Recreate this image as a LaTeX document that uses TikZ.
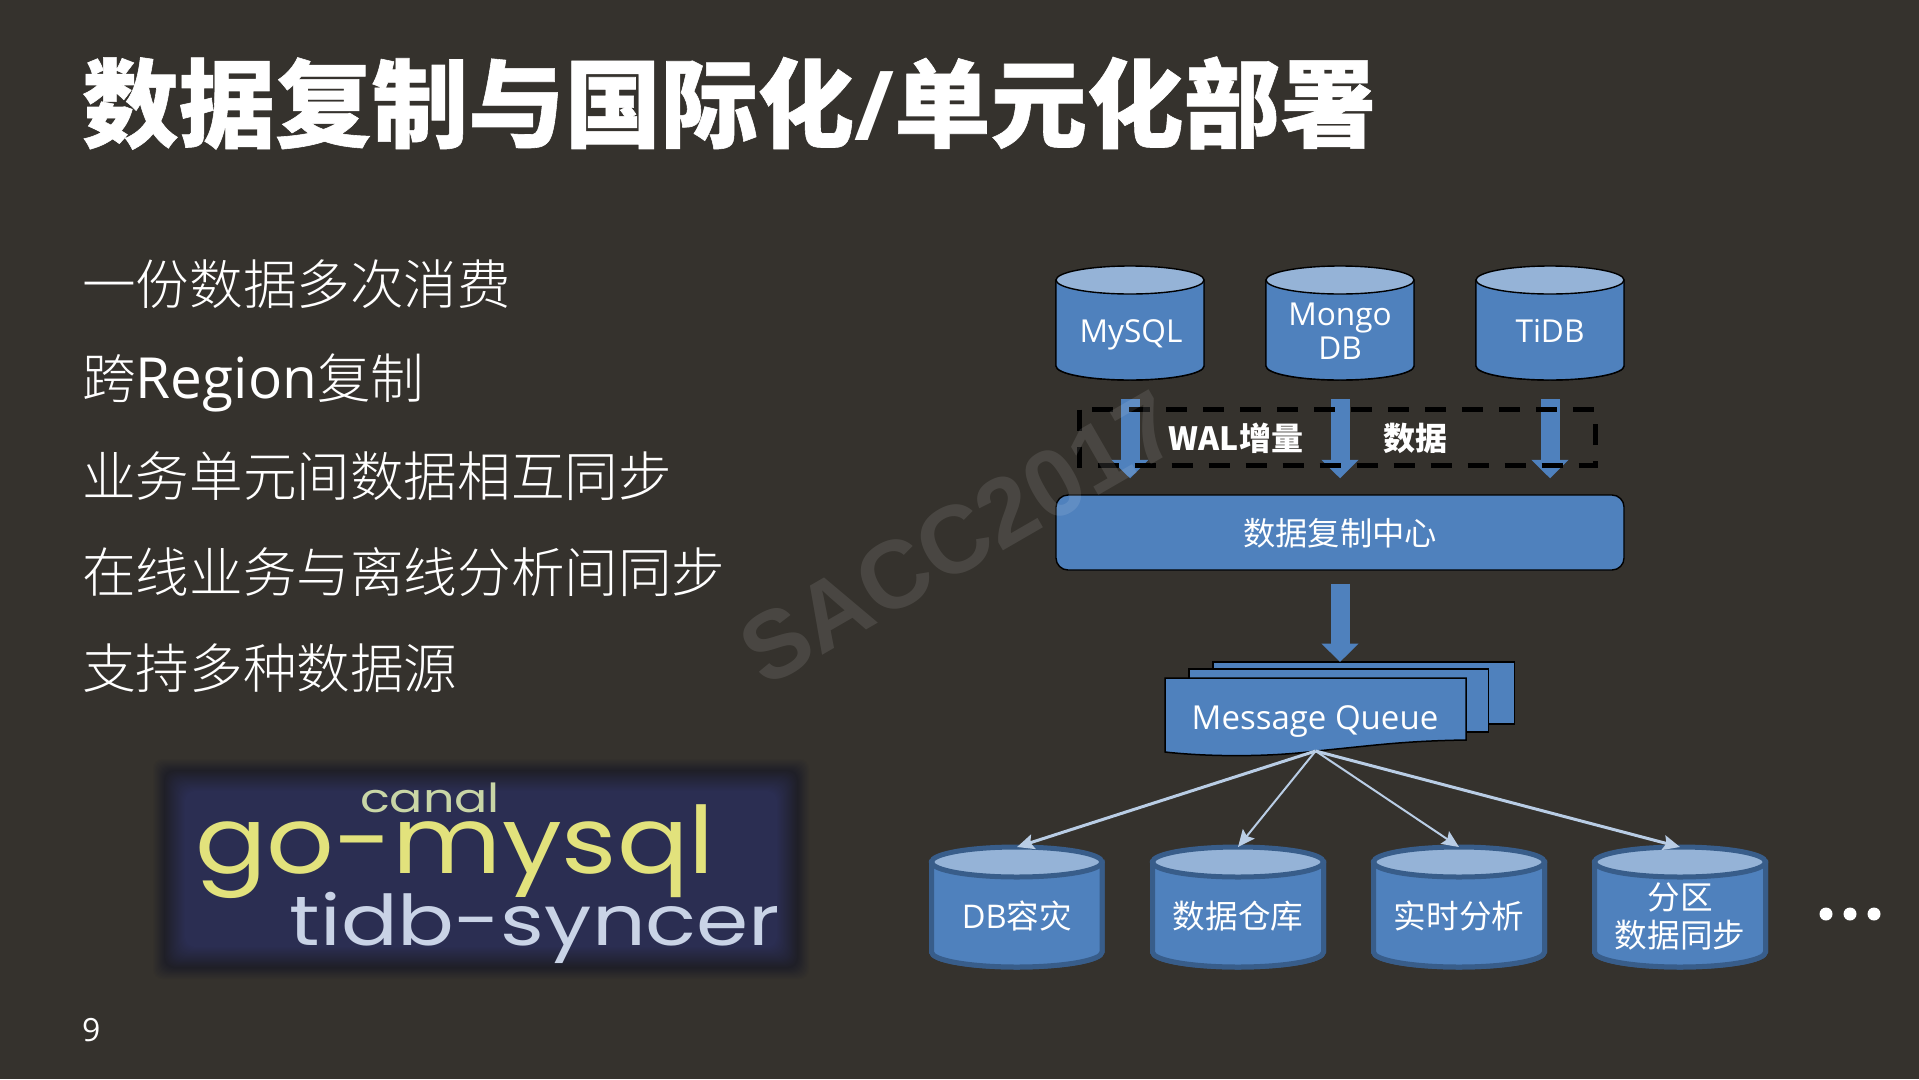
\documentclass[tikz,border=0pt]{standalone}
\usepackage{fontspec}
\setmainfont{Noto Sans CJK SC}
\newfontfamily\bodyfont{Noto Sans CJK SC Light}
\newfontfamily\titlefont[BoldFeatures={FakeBold=0.6}]{Noto Sans CJK SC}
\newfontfamily\latinfont{Open Sans}
\newfontfamily\wmfont{Liberation Sans}
\newfontfamily\logofont{Poppins}
\usetikzlibrary{arrows.meta,calc}
\definecolor{pagebg}{HTML}{35322D}
\definecolor{cylblue}{HTML}{4F81BD}
\definecolor{cyltop}{HTML}{95B3D7}
\definecolor{cylrim}{HTML}{385D8A}
\definecolor{softline}{HTML}{B9CDE5}
\definecolor{logonavy}{HTML}{2B2E53}
\definecolor{logodark}{HTML}{1F1F27}
\definecolor{logoyellow}{HTML}{E2E27C}
\definecolor{logopale}{HTML}{C9D6A6}
\definecolor{logoblue}{HTML}{C9D3E6}
\newcommand{\fs}[1]{\fontsize{#1}{#1}\selectfont}
\newcommand{\dbshape}[6]{% left, right, top centre y, bottom centre y, ry, style
  \fill[#6] (#1,#3) -- (#1,#4) arc[start angle=180,end angle=0,x radius={(#2-#1)/2},y radius=#5] -- (#2,#3) -- cycle;
  \draw[#6] (#1,#3) -- (#1,#4) arc[start angle=180,end angle=0,x radius={(#2-#1)/2},y radius=#5] -- (#2,#3);
  \draw[#6,fill=cyltop] ({(#1+#2)/2},#3) ellipse[x radius={(#2-#1)/2},y radius=#5];
}
\tikzset{
  slot/.style={inner sep=0pt,outer sep=0pt},
  upperdb/.style={fill=cylblue,draw=black,line width=1.4pt},
  lowerdb/.style={fill=cylblue,draw=cylrim,line width=5pt},
  celltext/.style={text=white,inner sep=0pt,align=center,font=\fs{32.6},text height=26pt,text depth=7pt},
  latincell/.style={text=white,inner sep=0pt,align=center,font=\latinfont\fs{31.6},text height=26pt,text depth=7pt},
  blockarrow/.style={draw=cylblue,line width=19pt,-{Triangle[width=36pt,length=18.5pt]}},
  softarrow/.style={draw=softline,line width=2.5pt,-{Stealth[length=17pt,width=15pt,inset=3pt]}},
  sheet/.style={fill=cylblue,draw=black,line width=1.5pt},
  bodyline/.style={anchor=base west,inner sep=0pt,text=white,font=\bodyfont\fs{53.6}},
  logotext/.style={anchor=base,inner sep=0pt,transform shape}
}
\begin{document}
\begin{tikzpicture}[x=1pt,y=-1pt]
\useasboundingbox (0,0) rectangle (1919,1079);
\fill[pagebg] (0,0) rectangle (1919,1079);

% title and body
\node[anchor=base west,inner sep=0pt,text=white,font=\titlefont\fs{96.5}\bfseries] (title) at (82,140) {数据复制与国际化{\latinfont\bfseries /}单元化部署};
\node[bodyline] (l1) at (82,304) {一份数据多次消费};
\node[bodyline] (l2) at (82,398) {跨{\latinfont\fs{56.7}Region}复制};
\node[bodyline] (l3) at (82,496) {业务单元间数据相互同步};
\node[bodyline] (l4) at (82,592) {在线业务与离线分析间同步};
\node[bodyline] (l5) at (82,688) {支持多种数据源};
\node[anchor=base west,inner sep=0pt,text=white,font=\latinfont\fs{32}] (page) at (82,1041) {9};

% logo
\foreach \i in {0,...,11}{
  \pgfmathsetmacro{\p}{\i*8.33}
  \fill[logodark!\p!pagebg,rounded corners=10pt] ({152+\i},{758+\i}) rectangle ({810-\i},{980-\i});
}
\foreach \i in {0,...,21}{
  \pgfmathsetmacro{\p}{\i*4.7}
  \fill[logonavy!\p!logodark,rounded corners=10pt] ({164+\i},{770+\i}) rectangle ({798-\i},{968-\i});
}
\node[logotext,text=logopale,font=\logofont\fs{40},xscale=1.23] (canal) at (430,812) {canal};
\node[logotext,text=logoyellow,font=\logofont\fs{93},xscale=1.14] (gomysql) at (455,873) {go-mysql};
\node[logotext,text=logoblue,font=\logofont\fs{70},xscale=1.2] (syncer) at (535,945) {tidb-syncer};

% source databases
\dbshape{1056}{1204}{280}{366}{14}{upperdb}
\node[slot,minimum width=148pt,minimum height=114pt] (mysql) at (1130,323) {};
\dbshape{1266}{1414}{280}{366}{14}{upperdb}
\node[slot,minimum width=148pt,minimum height=114pt] (mongo) at (1340,323) {};
\dbshape{1476}{1624}{280}{366}{14}{upperdb}
\node[slot,minimum width=148pt,minimum height=114pt] (tidb) at (1550,323) {};
\node[latincell] (mysqlt) at (1131,333) {MySQL};
\node[latincell] (mongot) at (1340,316) {Mongo};
\node[latincell] (dbt) at (1340,350) {DB};
\node[latincell] (tidbt) at (1550,333) {TiDB};

% replication hub
\node[rounded corners=12pt,fill=cylblue,draw=black,line width=1.4pt,minimum width=568pt,minimum height=75pt,inner sep=0pt,text=white,font=\fs{32.3},text height=26pt,text depth=0pt] (hub) at (1340,532.5) {数据复制中心};

\draw[blockarrow,shorten <=19pt,shorten >=16pt] (mysql.south) -- (mysql.south |- hub.north);
\draw[blockarrow,shorten <=19pt,shorten >=16pt] (mongo.south) -- (mongo.south |- hub.north);
\draw[blockarrow,shorten <=19pt,shorten >=16pt] (tidb.south) -- (tidb.south |- hub.north);
\draw[black,line width=5pt,dash pattern=on 21pt off 16pt] (1079.5,409.5) rectangle (1595,465.5);
\node[text=white,inner sep=0pt,font=\fs{32}\bfseries] (wal) at (1236,438) {WAL增量};
\node[text=white,inner sep=0pt,font=\fs{32}\bfseries] (wald) at (1415,438) {数据};

% message queue
\draw[sheet] (1213,662) rectangle (1514.5,724);
\draw[sheet] (1189,669) rectangle (1488.5,732);
\draw[sheet] (1165,678) -- (1466,678) -- (1466,740) .. controls (1400,741) and (1370,746) .. (1316,751) .. controls (1270,757) and (1210,757) .. (1165,752) -- cycle;
\node[latincell,font=\latinfont\fs{33}] (mq) at (1315,720) {Message Queue};
\coordinate (mqin) at (1340,662);
\coordinate (mqout) at (1315.6,751);
\draw[blockarrow,shorten <=13pt] (hub.south) -- (mqin);

% target databases
\dbshape{931.5}{1102}{862}{952}{15}{lowerdb}
\node[slot,minimum width=170pt,minimum height=120pt] (db1) at (1017,907) {};
\dbshape{1152.5}{1323.5}{862}{952}{15}{lowerdb}
\node[slot,minimum width=170pt,minimum height=120pt] (db2) at (1238,907) {};
\dbshape{1373.5}{1544.5}{862}{952}{15}{lowerdb}
\node[slot,minimum width=170pt,minimum height=120pt] (db3) at (1459,907) {};
\dbshape{1594.5}{1765.5}{862}{952}{15}{lowerdb}
\node[slot,minimum width=170pt,minimum height=120pt] (db4) at (1680,907) {};
\node[celltext] (db1t) at (1017,918.5) {{\latinfont DB}容灾};
\node[celltext] (db2t) at (1238,918.5) {数据仓库};
\node[celltext] (db3t) at (1459,918.5) {实时分析};
\node[celltext] (db4a) at (1680,899.5) {分区};
\node[celltext] (db4b) at (1680,937.5) {数据同步};
\draw[softarrow,line width=3pt] (mqout) -- (db1.north);
\draw[softarrow,line width=2pt] (mqout) -- (db2.north);
\draw[softarrow,line width=2pt] (mqout) -- (db3.north);
\draw[softarrow,line width=3pt] (mqout) -- (db4.north);

% ellipsis
\fill[white] (1826,914) circle[radius=6.5];
\fill[white] (1850,914) circle[radius=6.5];
\fill[white] (1874,914) circle[radius=6.5];

% watermark
\node[rotate=30,text=white,text opacity=0.1,inner sep=0pt,font=\wmfont\bfseries\fs{96}] (wm) at (959,538) {SACC2017};
\end{tikzpicture}
\end{document}
